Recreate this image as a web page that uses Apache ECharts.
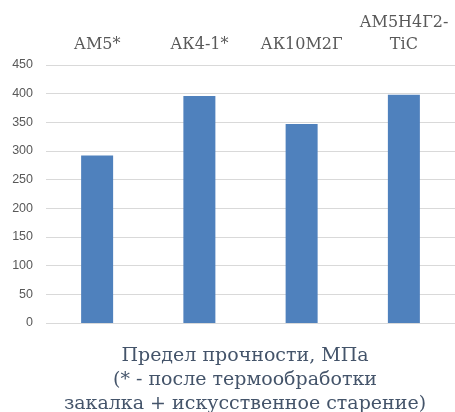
<!DOCTYPE html>
<html>
<head>
<meta charset="utf-8">
<script src="https://cdn.jsdelivr.net/npm/echarts@6/dist/echarts.min.js"></script>
<style>
  html, body { margin: 0; padding: 0; background: #fff; }
  #main { width: 455px; height: 412px; }
</style>
</head>
<body>
<div id="main"></div>
<script>
// сплавы и предел прочности
const alloys = ["АМ5*", "АК4-1*", "АК10М2Г", "АМ5Н4Г2-\nTiC"];
const strength = [292, 396, 347, 398];
const yTicks = { min: 0, max: 450, interval: 50 };

const myChart = echarts.init(document.getElementById("main"), null, {
  renderer: "canvas",
});

myChart.setOption({
  animation: false,
  // подпись снизу
  title: {
    text: "Предел прочности, МПа\n(* - после термообработки\nзакалка + искусственное старение)",
    left: 240,
    top: 339,
    textAlign: "center",
    textStyle: {
      fontFamily: "DejaVu Serif",
      fontSize: 19,
      fontWeight: "normal",
      color: "#44546A",
      lineHeight: 24,
    },
  },
  grid: {
    left: 46,
    right: 0,
    top: 65,
    bottom: 89,
  },
  xAxis: {
    type: "category",
    position: "top",
    data: alloys,
    axisLine: { show: false },
    axisTick: { show: false },
    axisLabel: {
      interval: 0,
      margin: 9,
      fontFamily: "DejaVu Serif",
      fontSize: 16,
      lineHeight: 22,
      color: "#595959",
    },
  },
  yAxis: {
    type: "value",
    min: yTicks.min,
    max: yTicks.max,
    interval: yTicks.interval,
    axisLine: { show: false },
    axisTick: { show: false },
    axisLabel: {
      margin: 13,
      fontFamily: "Liberation Sans",
      fontSize: 12.5,
      color: "#595959",
    },
    splitLine: { lineStyle: { color: "#D9D9D9", width: 1 } },
  },
  series: [
    {
      type: "bar",
      data: strength,
      barWidth: 32,
      itemStyle: { color: "#4F81BD" },
    },
  ],
});
</script>
</body>
</html>
